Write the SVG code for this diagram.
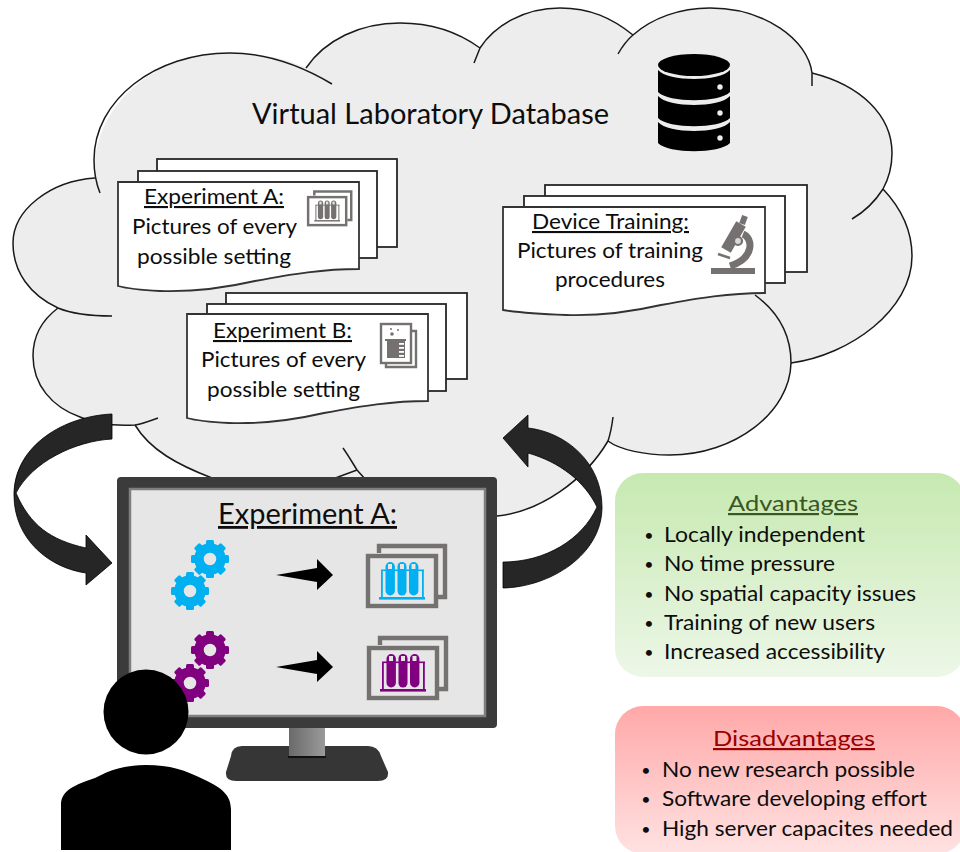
<svg xmlns="http://www.w3.org/2000/svg" width="960" height="852" viewBox="0 0 960 852">
<style>
text{font-family:Lato,"Liberation Sans",sans-serif;fill:#0d0d0d}
.s{font-size:21px}.b{font-size:21px}
.d{font-size:16px;text-anchor:middle}
.u{text-decoration:underline}
.sheet{fill:#fff;stroke:#262626;stroke-width:1.8}
.front{fill:#fff;stroke:#333;stroke-width:1.8}
.cloudline{fill:none;stroke:#1a1a1a;stroke-width:1.5}
.curve{fill:#262626;stroke:#000;stroke-width:.8}
</style>
<defs>
<linearGradient id="gGreen" x1="0" y1="0" x2="0" y2="1"><stop offset="0" stop-color="#c6e9b0"/><stop offset="1" stop-color="#edf7e8"/></linearGradient>
<linearGradient id="gRed" x1="0" y1="0" x2="0" y2="1"><stop offset="0" stop-color="#ffa8a8"/><stop offset="1" stop-color="#ffe2e2"/></linearGradient>
<linearGradient id="gNeck" x1="0" y1="0" x2="1" y2="0"><stop offset="0" stop-color="#6a6a6a"/><stop offset="1" stop-color="#9a9a9a"/></linearGradient>
<g id="gear">
<circle r="11" fill="none" stroke="currentColor" stroke-width="9.5"/>
<g fill="currentColor">
<rect x="-4" y="-19" width="8" height="6" rx="1.5"/>
<rect x="-4" y="-19" width="8" height="6" rx="1.5" transform="rotate(45)"/>
<rect x="-4" y="-19" width="8" height="6" rx="1.5" transform="rotate(90)"/>
<rect x="-4" y="-19" width="8" height="6" rx="1.5" transform="rotate(135)"/>
<rect x="-4" y="-19" width="8" height="6" rx="1.5" transform="rotate(180)"/>
<rect x="-4" y="-19" width="8" height="6" rx="1.5" transform="rotate(225)"/>
<rect x="-4" y="-19" width="8" height="6" rx="1.5" transform="rotate(270)"/>
<rect x="-4" y="-19" width="8" height="6" rx="1.5" transform="rotate(315)"/>
</g>
</g>
<g id="rack">
<g fill="none" stroke="#767171" stroke-width="4.4">
<rect x="368" y="556" width="68" height="50"/>
<path d="M379,553V546H445V597H438"/>
</g>
<g fill="currentColor">
<rect x="385.5" y="562" width="9.4" height="33.5" rx="4.7"/>
<rect x="397.5" y="562" width="9" height="33.5" rx="4.5"/>
<rect x="409" y="562" width="9.4" height="33.5" rx="4.7"/>
<rect x="381" y="570" width="1.8" height="28"/>
<rect x="422" y="570" width="1.8" height="28"/>
<rect x="381" y="569.5" width="43" height="1.6"/>
<rect x="379" y="597" width="46" height="2.6"/>
</g>
<g fill="#e6e6e6">
<rect x="388" y="564" width="4" height="5"/>
<rect x="400" y="564" width="4" height="5"/>
<rect x="411.5" y="564" width="4" height="5"/>
</g>
</g>
<path id="wave" d="M0,0H241V87C205,87 175,92 137,99C102,107 72,110 42,109C22,108 7,106 0,104Z"/>
</defs>

<g id="cloud">
<path fill="#ededed" d="M95,178C90,110 150,53 230,53C260,53 285,58 306,68C325,40 360,23 400,23C430,23 458,32 480,48C495,25 525,8 560,8C590,8 612,18 633,35C652,18 680,8 710,8C765,8 808,40 812,73C860,85 892,115 892,153C892,165 889,178 883,189C900,207 912,230 912,256C912,310 850,355 791,363C790,412 735,455 670,455C645,455 620,450 608,441C585,480 540,512 497,516L340,490L210,477C178,465 150,450 135,425C115,426 95,424 80,417C52,407 33,385 33,356C33,337 42,320 58,308C30,295 13,272 13,243C13,210 50,181 95,178Z"/>
<path class="cloudline" d="M332,84C300,65 265,53 230,53C155,53 94,100 94,160C94,172 96,183 100,193"/>
<path class="cloudline" d="M306,68C325,40 360,23 400,23C430,23 458,32 480,48"/>
<path class="cloudline" d="M474,63C476,58 478,53 480,48C495,25 525,8 560,8C590,8 612,18 633,35"/>
<path class="cloudline" d="M618,54C622,47 627,40 633,35C652,18 680,8 710,8C765,8 808,40 812,73L812,86"/>
<path class="cloudline" d="M812,73C860,85 892,115 892,153C892,165 889,178 883,189C876,200 864,212 852,219"/>
<path class="cloudline" d="M883,189C900,207 912,230 912,256C912,310 850,355 791,363"/>
<path class="cloudline" d="M755,295C778,312 791,335 791,363C790,412 735,455 670,455C645,455 620,450 608,441"/>
<path class="cloudline" d="M613,417C612,425 610,435 608,441C585,480 540,512 497,516"/>
<path class="cloudline" d="M343,448C348,455 352,462 357,470L366,480M330,480L357,470"/>
<path class="cloudline" d="M135,425C150,450 178,465 212,478"/>
<path class="cloudline" d="M158,418C150,421 142,424 135,425C115,426 95,424 80,417C52,407 33,385 33,356C33,337 42,320 58,308"/>
<path class="cloudline" d="M112,316C90,316 70,313 58,308C30,295 13,272 13,243C13,210 50,181 95,178"/>
</g>

<g id="title"><text x="252" y="124" font-size="28" textLength="357" lengthAdjust="spacingAndGlyphs">Virtual Laboratory Database</text></g>

<g id="database" fill="#000">
<ellipse cx="694" cy="65" rx="36" ry="11"/>
<path d="M658,70C668,82 720,82 730,70V92C720,103 668,103 658,92Z"/>
<path d="M658,96C668,108 720,108 730,96V118C720,129 668,129 658,118Z"/>
<path d="M658,122C668,134 720,134 730,122V143C720,154 668,154 658,143Z"/>
<g fill="#ededed"><circle cx="720" cy="87" r="2.7"/><circle cx="720" cy="113" r="2.7"/><circle cx="720" cy="138" r="2.7"/></g>
</g>

<g id="experiment-a-sheets">
<rect class="sheet" x="157" y="159" width="240" height="88"/>
<rect class="sheet" x="138" y="171" width="239" height="87"/>
<use href="#wave" class="front" x="118" y="182"/>
<text class="s u" x="144" y="204" textLength="140" lengthAdjust="spacingAndGlyphs">Experiment A:</text>
<text class="s" x="132" y="234" textLength="165" lengthAdjust="spacingAndGlyphs">Pictures of every</text>
<text class="s" x="137" y="264" textLength="154" lengthAdjust="spacingAndGlyphs">possible setting</text>
<use href="#rack" color="#767171" transform="translate(307,196) scale(.56) translate(-366,-554)"/>
</g>

<g id="experiment-b-sheets">
<rect class="sheet" x="226" y="293" width="241" height="86"/>
<rect class="sheet" x="207" y="304" width="239" height="87"/>
<use href="#wave" class="front" x="187" y="314"/>
<text class="s u" x="213" y="338" textLength="139" lengthAdjust="spacingAndGlyphs">Experiment B:</text>
<text class="s" x="201" y="367" textLength="165" lengthAdjust="spacingAndGlyphs">Pictures of every</text>
<text class="s" x="207" y="397" textLength="153" lengthAdjust="spacingAndGlyphs">possible setting</text>
<g fill="none" stroke="#767171" stroke-width="2.4">
<path d="M411,331H416V367H386V363"/>
<rect x="381" y="324" width="30" height="39" fill="#fff"/>
</g>
<path d="M385,339H406V341H405V358H387V341H385Z" fill="#767171"/>
<g fill="#fff"><rect x="399" y="343" width="5" height="1.8"/><rect x="399" y="347" width="5" height="1.8"/><rect x="399" y="351" width="5" height="1.8"/><rect x="399" y="355" width="5" height="1.8"/></g>
<g fill="#767171"><circle cx="392" cy="334" r="1.8"/><circle cx="398" cy="330" r="1"/><circle cx="391" cy="329" r="1"/></g>
</g>

<g id="device-training-sheets">
<rect class="sheet" x="545" y="185" width="262" height="87"/>
<rect class="sheet" x="524" y="196" width="261" height="87"/>
<path class="front" d="M503,207H765V293C729,293 699,298 661,305C626,313 596,316 566,315C538,314 515,312 503,310Z"/>
<text class="s u" x="532" y="229" textLength="157" lengthAdjust="spacingAndGlyphs">Device Training:</text>
<text class="s" x="517" y="258" textLength="186" lengthAdjust="spacingAndGlyphs">Pictures of training</text>
<text class="s" x="555" y="287" textLength="110" lengthAdjust="spacingAndGlyphs">procedures</text>
<g fill="none" stroke="#767171">
<rect x="711" y="268" width="44" height="6" fill="#767171" stroke="none"/>
<path d="M745,216L742,224" stroke-width="6"/>
<path d="M741,224L726,250" stroke-width="11"/>
<path d="M718,254L730,258" stroke-width="2.5"/>
<path d="M743,234C753,238 755,258 730,266" stroke-width="7"/>
<circle cx="738" cy="241" r="4" fill="#d9d9d9" stroke-width="2.2"/>
</g>
</g>

<g id="monitor">
<path d="M242,746H368Q378,746 381,756L388,772Q389,781 378,781H236Q225,781 226,772L231,756Q232,746 242,746Z" fill="#363636"/>
<rect x="289" y="726" width="36" height="31" fill="url(#gNeck)"/>
<rect x="288" y="756" width="38" height="2" fill="#111"/>
<rect x="117" y="477" width="380" height="251" rx="4" fill="#3b3b3b"/>
<rect x="130" y="489" width="355" height="227" fill="#e6e6e6" stroke="#7f7f7f" stroke-width="2.5"/>
<text class="u" x="218" y="524" font-size="28" textLength="179" lengthAdjust="spacingAndGlyphs">Experiment A:</text>
<use href="#gear" x="210" y="559" color="#00b0f0"/>
<use href="#gear" x="190" y="591" color="#00b0f0"/>
<use href="#gear" x="210" y="650" color="#800080"/>
<use href="#gear" x="190" y="683" color="#800080"/>
<use href="#rack" color="#00b0f0"/>
<use href="#rack" color="#800080" x="1" y="92"/>
</g>

<g id="connectors">
<path d="M276,575L317,568V559L333,575L317,590V582Z" fill="#000"/>
<path d="M276,667L317,660V651L333,667L317,682V674Z" fill="#000"/>
<path class="curve" d="M112,414C65,416 14,445 14,495C14,540 50,568 86,573V585L112,563L86,535V548C50,540 30,525 16,493C32,462 75,441 112,439Z"/>
<path class="curve" d="M503,438L528,415V428C565,432 602,462 602,507C602,555 550,587 503,588V562C545,562 582,540 597,507C585,482 560,462 528,453V467Z"/>
</g>

<g id="user" fill="#000">
<circle cx="146" cy="712" r="42.5"/>
<path d="M61,850V805C61,790 75,785 95,778C110,770 125,765 146,765C170,765 185,770 205,780C222,788 231,795 231,810V850Z"/>
</g>

<g id="advantages">
<rect x="615" y="473" width="350" height="204" rx="28" fill="url(#gGreen)"/>
<text class="u" x="728" y="511" font-size="22" style="fill:#385723" textLength="130" lengthAdjust="spacingAndGlyphs">Advantages</text>
<text class="d" x="649" y="541">•</text><text class="b" x="664" y="542" textLength="201" lengthAdjust="spacingAndGlyphs">Locally independent</text>
<text class="d" x="649" y="570">•</text><text class="b" x="664" y="571" textLength="171" lengthAdjust="spacingAndGlyphs">No time pressure</text>
<text class="d" x="649" y="600">•</text><text class="b" x="664" y="601" textLength="252" lengthAdjust="spacingAndGlyphs">No spatial capacity issues</text>
<text class="d" x="649" y="629">•</text><text class="b" x="664" y="630" textLength="211" lengthAdjust="spacingAndGlyphs">Training of new users</text>
<text class="d" x="649" y="658">•</text><text class="b" x="664" y="659" textLength="221" lengthAdjust="spacingAndGlyphs">Increased accessibility</text>
</g>

<g id="disadvantages">
<rect x="615" y="706" width="350" height="148" rx="28" fill="url(#gRed)"/>
<text class="u" x="713" y="746" font-size="22" style="fill:#990000" textLength="162" lengthAdjust="spacingAndGlyphs">Disadvantages</text>
<text class="d" x="646" y="776">•</text><text class="b" x="662" y="777" textLength="253" lengthAdjust="spacingAndGlyphs">No new research possible</text>
<text class="d" x="646" y="805">•</text><text class="b" x="662" y="806" textLength="265" lengthAdjust="spacingAndGlyphs">Software developing effort</text>
<text class="d" x="646" y="835">•</text><text class="b" x="662" y="836" textLength="291" lengthAdjust="spacingAndGlyphs">High server capacites needed</text>
</g>
</svg>
